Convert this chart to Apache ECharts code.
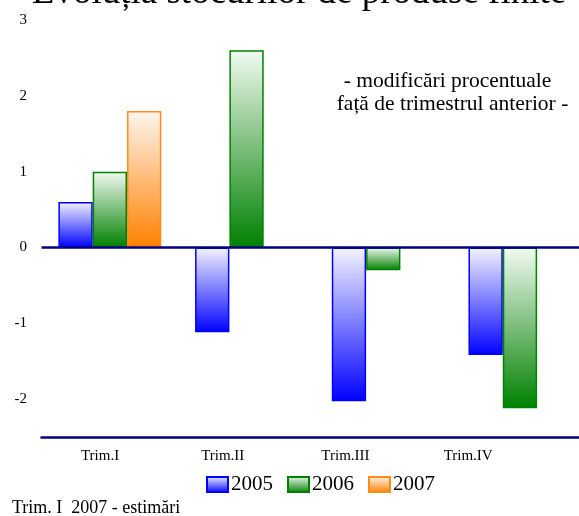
<!DOCTYPE html>
<html>
<head>
<meta charset="utf-8">
<script src="https://cdn.jsdelivr.net/npm/echarts@6/dist/echarts.min.js"></script>
<style>
html,body{margin:0;padding:0;background:#fff;}
#chart{width:579px;height:516px;}
</style>
</head>
<body>
<div id="chart"></div>
<script>
var categories = ['Trim.I', 'Trim.II', 'Trim.III', 'Trim.IV'];
var years = ['2005', '2006', '2007'];
var values2005 = [0.6, -1.12, -2.03, -1.42];
var values2006 = [1.0, 2.6, -0.3, -2.12];
var values2007 = [1.8, null, null, null];
var titleText = 'Evoluția stocurilor de produse finite';
var noteLine1 = '- modificări procentuale';
var noteLine2 = 'față de trimestrul anterior -';
var footText = 'Trim. I  2007 - estimări';

var FONT = '"Liberation Serif", "Times New Roman", serif';

function grad(top, bottom) {
  return new echarts.graphic.LinearGradient(0, 0, 0, 1, [
    {offset: 0, color: top},
    {offset: 1, color: bottom}
  ]);
}

var styles = [
  {fill: grad('#f4f4ff', '#0000ff'), border: '#0000ff'},
  {fill: grad('#f2faf2', '#008000'), border: '#008000'},
  {fill: grad('#fff6ef', '#ff8000'), border: '#ff8c1a'}
];
var seriesValues = [values2005, values2006, values2007];

var series = years.map(function (y, i) {
  var s = {
    name: y,
    type: 'bar',
    xAxisIndex: 0,
    yAxisIndex: 0,
    data: seriesValues[i],
    barGap: '0%',
    barCategoryGap: '24.7%',
    itemStyle: {color: styles[i].fill, borderColor: styles[i].border, borderWidth: 1.5},
    emphasis: {disabled: true}
  };
  if (i === years.length - 1) {
    s.markLine = {
      silent: true,
      symbol: 'none',
      label: {show: false},
      z: 10,
      lineStyle: {color: '#000080', width: 2.5, type: 'solid'},
      data: [{yAxis: 0}]
    };
  }
  return s;
});

var chart = echarts.init(document.getElementById('chart'), null, {renderer: 'canvas'});
chart.setOption({
  animation: false,
  backgroundColor: '#ffffff',
  grid: [
    {left: 41.5, width: 546.8, top: 20, bottom: 79, containLabel: false, outerBoundsMode: 'none'},
    {left: 38.7, width: 490.8, top: 20, bottom: 79, containLabel: false, outerBoundsMode: 'none'}
  ],
  legend: {
    data: years,
    left: 206,
    top: 474,
    padding: 0,
    icon: 'rect',
    itemWidth: 21,
    itemHeight: 15,
    itemGap: 14,
    textStyle: {fontFamily: FONT, fontSize: 21, color: '#000', padding: [0, 0, 0, -2]}
  },
  xAxis: [
    {
      type: 'category',
      gridIndex: 0,
      data: categories,
      axisLine: {onZero: false, lineStyle: {color: '#000080', width: 2.5}},
      axisTick: {show: false},
      axisLabel: {show: false}
    },
    {
      type: 'category',
      gridIndex: 1,
      data: categories,
      axisLine: {show: false},
      axisTick: {show: false},
      axisLabel: {show: true, margin: 12, fontFamily: FONT, fontSize: 15, color: '#000'}
    }
  ],
  yAxis: [
    {
      type: 'value',
      gridIndex: 0,
      min: -2.5,
      max: 3,
      interval: 0.5,
      axisLine: {show: false},
      axisTick: {show: false},
      splitLine: {show: false},
      axisLabel: {
        margin: 14.5,
        fontFamily: FONT,
        fontSize: 15,
        color: '#000',
        formatter: function (v) { return Math.abs(v - Math.round(v)) < 1e-9 ? String(Math.round(v)) : ''; }
      }
    },
    {
      type: 'value',
      gridIndex: 1,
      min: -2.5,
      max: 3,
      show: false
    }
  ],
  graphic: [
    {type: 'text', x: 299, y: -7, z: 100, style: {text: titleText, font: '37px ' + FONT, fill: '#000', align: 'center', verticalAlign: 'middle', textAlign: 'center', textVerticalAlign: 'middle'}},
    {type: 'text', x: 447.5, y: 81.5, z: 100, style: {text: noteLine1, font: '21.5px ' + FONT, fill: '#000', align: 'center', verticalAlign: 'middle', textAlign: 'center', textVerticalAlign: 'middle'}},
    {type: 'text', x: 452.5, y: 104, z: 100, style: {text: noteLine2, font: '21.5px ' + FONT, fill: '#000', align: 'center', verticalAlign: 'middle', textAlign: 'center', textVerticalAlign: 'middle'}},
    {type: 'text', x: 12, y: 508.5, z: 100, style: {text: footText, font: '18px ' + FONT, fill: '#000', align: 'left', verticalAlign: 'middle', textAlign: 'left', textVerticalAlign: 'middle'}}
  ],
  series: series
});
</script>
</body>
</html>
